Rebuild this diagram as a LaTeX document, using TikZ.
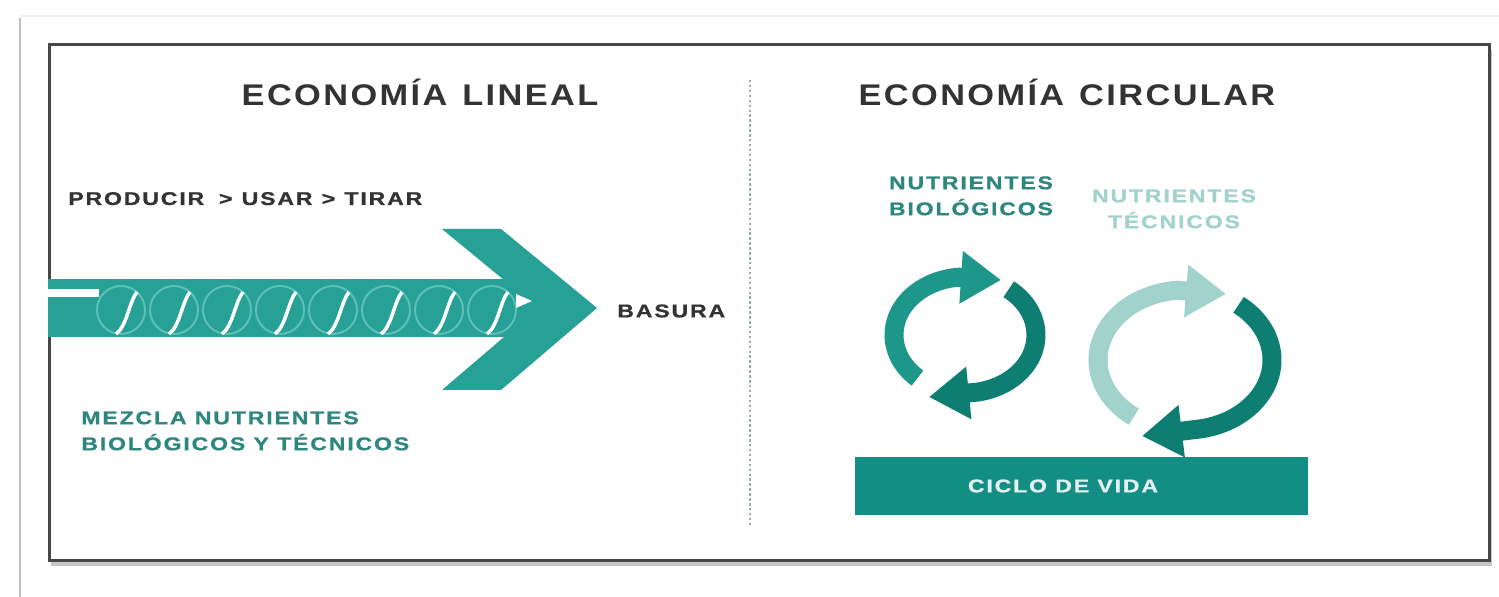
\documentclass[tikz,border=0pt]{standalone}
\usepackage{fontspec}
\setmainfont{Liberation Sans}
\newfontfamily\headfont{Liberation Sans}[FakeStretch=1.15,LetterSpace=8]
\newfontfamily\tagfont{Liberation Sans}[FakeStretch=1.25,LetterSpace=10,FakeBold=0.8]
\usetikzlibrary{arrows.meta,shadows,calc}
\definecolor{tealarrow}{HTML}{27A095}
\definecolor{tealring}{HTML}{5EBFB4}
\definecolor{tealdark}{HTML}{0F7E72}
\definecolor{tealmid}{HTML}{1E978B}
\definecolor{teallight}{HTML}{A2D2CC}
\definecolor{tealtext}{HTML}{2E877D}
\definecolor{tealbar}{HTML}{138E85}
\definecolor{inkgray}{HTML}{333333}
\definecolor{divgray}{HTML}{94ADAB}
\tikzstyle{heading}=[font=\headfont\bfseries\fontsize{17}{20}\selectfont, text=inkgray, inner sep=0pt]
\tikzstyle{tag}=[font=\tagfont\bfseries\fontsize{10.5}{14.8}\selectfont, inner sep=0pt]
\tikzstyle{cyclearc}=[line width=0.38cm, -{Triangle[length=0.8cm,width=1.0cm]}]

\begin{document}
\begin{tikzpicture}[x=0.02cm, y=-0.02cm]
    \useasboundingbox (0,0) rectangle (1499,597);
    % page edges and frame
    \draw[gray!12, line width=0.04cm] (20,16) -- (1499,16);
    \draw[gray!50, line width=0.05cm] (20,18) -- (20,597);
    \draw[draw=black!72, line width=0.06cm, fill=white,
        drop shadow={opacity=0.45, shadow xshift=0.05cm, shadow yshift=-0.1cm}]
        (49,45) rectangle (1489,561);
    \node[heading] (lintitle) at (420,92) {ECONOMÍA\hspace{0.5em}LINEAL};
    \node[heading] (circtitle) at (1067,92) {ECONOMÍA\hspace{0.5em}CIRCULAR};
    \draw[divgray, dash pattern=on 1.4pt off 1.4pt, line width=1.3pt] (750,80) -- (750,526);

    % linear side
    \node[tag, text=inkgray, anchor=base west] (produce) at (68,205)
        {PRODUCIR\hspace{0.8em}>\hspace{0.5em}USAR\hspace{0.5em}>\hspace{0.5em}TIRAR};
    \fill[tealarrow] (48,279) rectangle (540,337);
    \fill[tealarrow] (442,229) -- (501,229) -- (597,308) -- (501,390)
        -- (442,390) -- (538,308) -- cycle;
    \fill[white] (48,289) rectangle (99,297);
    \foreach \cx in {121,174,...,492} {
        \draw[tealring, line width=0.04cm] (\cx,310) circle[radius=24];
        \draw[white, line width=0.07cm] (\cx-5,334) .. controls (\cx+6,326)
            and (\cx+8,302) .. (\cx+16,292);
    }
    \fill[white] (516,294) -- (532,301) -- (516,308) -- cycle;
    \node[tag, text=inkgray, anchor=west] (basura) at (617,311) {BASURA};
    \node[tag, text=tealtext, align=left, anchor=north west] (mixlabel) at (81,411)
        {MEZCLA NUTRIENTES\\BIOLÓGICOS Y TÉCNICOS};

    % circular side
    \node[tag, text=tealtext, align=center, anchor=north] (biolabel) at (971,176)
        {NUTRIENTES\\BIOLÓGICOS};
    \node[tag, text=teallight, align=center, anchor=north] (teclabel) at (1174,189)
        {NUTRIENTES\\TÉCNICOS};
    \fill[tealbar] (855,457) rectangle (1308,515);
    \node[tag, text=white!88!tealbar] (ciclo) at (1063,486) {CICLO DE VIDA};
    \coordinate (biotop) at (1001,280);
    \coordinate (biobot) at (929,397);
    \coordinate (tectop) at (1226,294);
    \coordinate (tecbot) at (1142,436);
    \draw[cyclearc, tealmid] ($(965,335)+(-228:71 and 58)$)
        arc[start angle=-228, end angle=-95, x radius=71, y radius=58] -- (biotop);
    \draw[cyclearc, tealdark] ($(965,335)+(-52:71 and 58)$)
        arc[start angle=-52, end angle=80, x radius=71, y radius=58] -- (biobot);
    \draw[cyclearc, teallight] ($(1185,360)+(-234:87 and 70)$)
        arc[start angle=-234, end angle=-95, x radius=87, y radius=70] -- (tectop);
    \draw[cyclearc, tealdark] ($(1185,360)+(-52:87 and 70)$)
        arc[start angle=-52, end angle=80, x radius=87, y radius=70] -- (tecbot);
\end{tikzpicture}
\end{document}
